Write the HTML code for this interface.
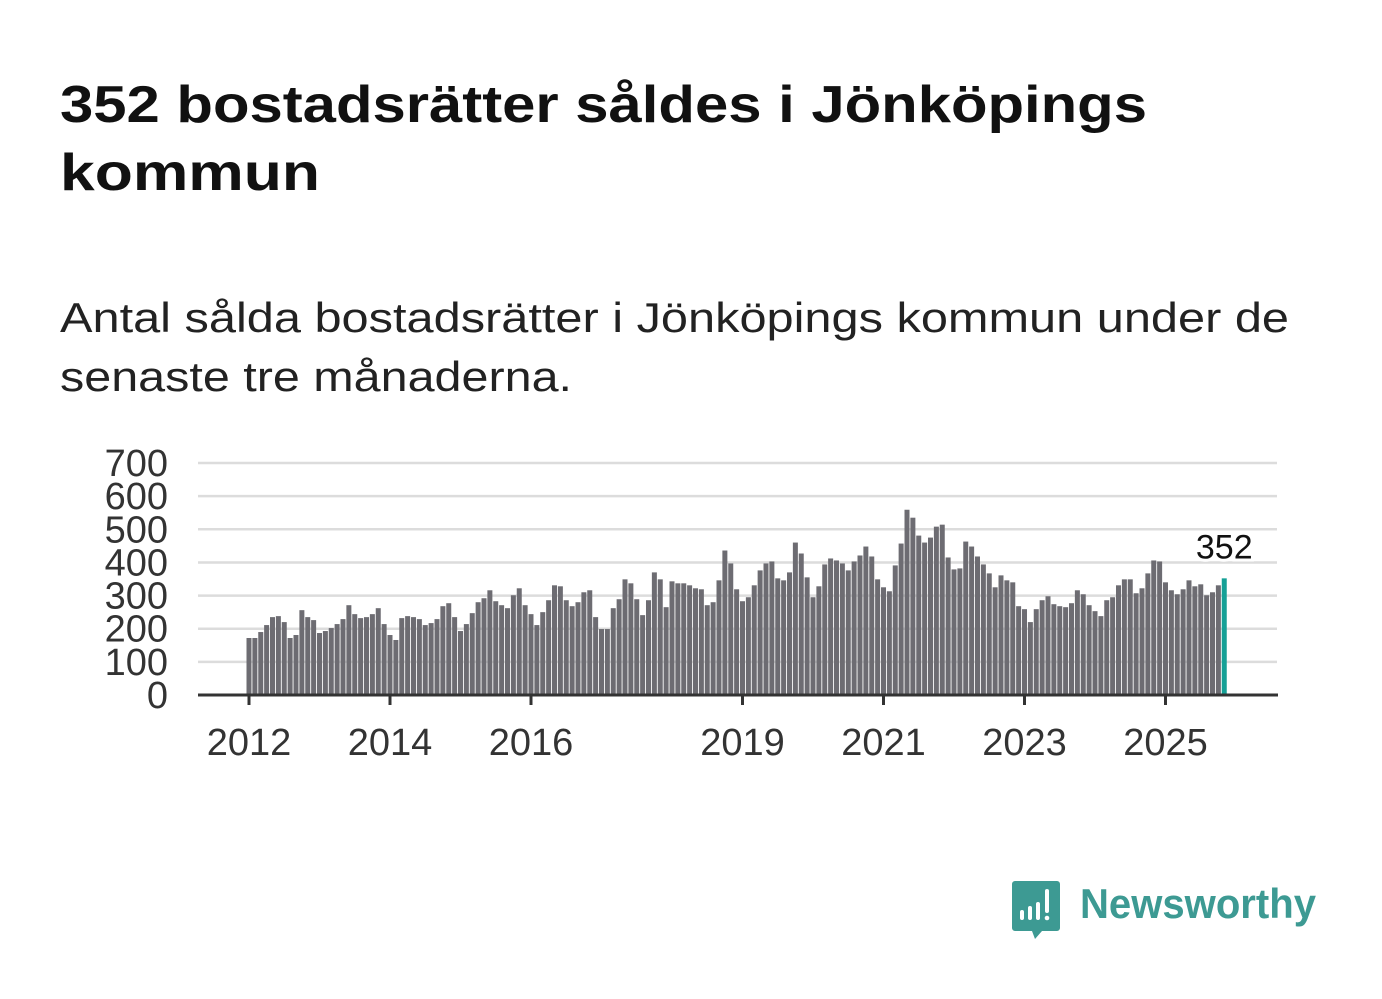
<!DOCTYPE html>
<html><head><meta charset="utf-8"><style>
html,body{margin:0;padding:0;background:#fff;width:1382px;height:999px;overflow:hidden}
body{font-family:"Liberation Sans",sans-serif;color:#111}
</style></head><body>
<svg width="1382" height="999" viewBox="0 0 1382 999" xmlns="http://www.w3.org/2000/svg">
<text x="60" y="122" font-size="52" font-weight="bold" fill="#111" textLength="1087" lengthAdjust="spacingAndGlyphs">352 bostadsrätter såldes i Jönköpings</text>
<text x="60" y="190" font-size="52" font-weight="bold" fill="#111" textLength="260" lengthAdjust="spacingAndGlyphs">kommun</text>
<text x="60" y="332" font-size="42" fill="#222" textLength="1229" lengthAdjust="spacingAndGlyphs">Antal sålda bostadsrätter i Jönköpings kommun under de</text>
<text x="60" y="391" font-size="42" fill="#222" textLength="512" lengthAdjust="spacingAndGlyphs">senaste tre månaderna.</text>
<g id="grid"></g>
<g id="yaxis"></g>
<g id="bars"></g>
<g id="xaxis"></g>
<g>
<path d="M1015 881 h42 a3 3 0 0 1 3 3 v44 a3 3 0 0 1 -3 3 h-15 l-7 8 l-3 -8 h-17 a3 3 0 0 1 -3 -3 v-44 a3 3 0 0 1 3 -3z" fill="#3d9a93"/>
<rect x="1020" y="910" width="4" height="10" rx="2" fill="#fff"/>
<rect x="1028" y="906" width="4" height="14" rx="2" fill="#fff"/>
<rect x="1036" y="902" width="4" height="18" rx="2" fill="#fff"/>
<rect x="1045" y="889" width="4" height="24" rx="2" fill="#fff"/>
<circle cx="1047" cy="918" r="2.3" fill="#fff"/>
<text x="1080" y="918" font-size="42" font-weight="bold" fill="#3d9a93" textLength="236" lengthAdjust="spacingAndGlyphs">Newsworthy</text>
</g>
</svg>
<script>
const values = [172,172,190,211,235,238,220,172,181,256,235,226,
187,193,202,214,229,271,244,232,235,244,262,214,
181,166,232,238,235,229,211,217,229,268,277,235,
193,214,247,280,292,316,283,271,262,301,322,271,
244,211,250,286,331,328,286,268,280,310,316,235,
199,199,262,289,349,337,289,241,286,370,349,265,
343,337,337,331,322,319,271,280,346,436,397,319,
283,295,331,376,397,403,352,346,370,460,427,355,
295,328,394,412,406,397,376,403,421,448,418,349,
325,313,391,457,559,535,481,460,475,508,514,415,
379,382,463,448,418,394,367,325,361,346,340,268,
259,220,259,286,298,274,268,265,277,316,304,271,
253,238,286,295,331,349,349,307,322,367,406,403,
340,316,304,319,346,328,334,301,310,331,352];
const yTicks = [0,100,200,300,400,500,600,700];
const xTickLabels = ["2012","2014","2016","2019","2021","2023","2025"];
const xTickMonths = [0,24,48,84,108,132,156];
const lastLabel = "352";

const NS="http://www.w3.org/2000/svg";
const y = v => 695 - v*0.3314;
const x = i => 249 + i*5.875;
const mk=(t,a,p)=>{const e=document.createElementNS(NS,t);for(const k in a)e.setAttribute(k,a[k]);p.appendChild(e);return e;};
const grid=document.getElementById('grid'), ya=document.getElementById('yaxis'), bars=document.getElementById('bars'), xa=document.getElementById('xaxis');
yTicks.forEach(t=>{
  if(t>0){const l=mk('line',{x1:198,x2:1277,y1:y(t),y2:y(t),stroke:'#dcdcdc','stroke-width':2.5},grid);
  
  }
  const tx=mk('text',{x:168,y:y(t)+13,'font-size':38,'text-anchor':'end',fill:'#333'},ya);
  tx.textContent=t;
  
  
});
values.forEach((v,i)=>{
  const last=i===values.length-1;
  const r=mk('rect',{x:x(i)-2.5,y:y(v),width:5,height:695-y(v),fill:last?'#15a096':'#6d6c72'},bars);
  
  
});
const li=values.length-1;
const lb=mk('text',{x:x(li),y:y(values[li])-20,'font-size':34,'text-anchor':'middle',fill:'#111',stroke:'#fff','stroke-width':6,'paint-order':'stroke'},bars);
lb.textContent=lastLabel;


const base=mk('line',{x1:198,x2:1278,y1:695,y2:695,stroke:'#333','stroke-width':3},xa);


xTickMonths.forEach((m,k)=>{
  const tk=mk('line',{x1:x(m),x2:x(m),y1:695,y2:705,stroke:'#333','stroke-width':3},xa);
  
  
  const t=mk('text',{x:x(m),y:755,'font-size':38,'text-anchor':'middle',fill:'#333'},xa);
  t.textContent=xTickLabels[k];
  
  
});
</script>
</body></html>
